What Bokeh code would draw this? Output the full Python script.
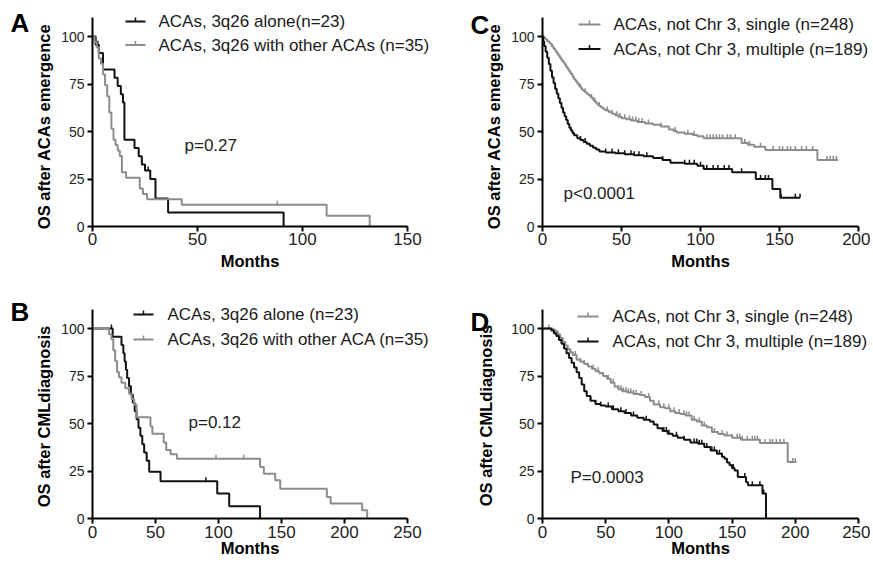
import numpy as np
from bokeh.plotting import figure
from bokeh.models import Range1d, Label, FixedTicker
from bokeh.layouts import column, row
from bokeh.embed import file_html
from bokeh.resources import INLINE

FONT = "Liberation Sans"
BLACK = "#111111"
GRAY = "#8c8c8c"
TXT = "#222222"

# ---------------- data ----------------
y_ticks = [0, 25, 50, 75, 100]
x_ticks_A = [0, 50, 100, 150]
x_ticks_B = [0, 50, 100, 150, 200, 250]
x_ticks_C = [0, 50, 100, 150, 200]
x_ticks_D = [0, 50, 100, 150, 200, 250]

# Panel A: OS after ACAs emergence (3q26)
a_alone_t = [0, 1.5, 3, 5, 10.5, 12, 13.5, 14.5, 15.2, 20, 22, 23.5, 25, 27.5, 30, 36, 91]
a_alone_s = [100, 95.7, 91.3, 82.6, 78.3, 73.9, 69.6, 65.2, 45.7, 41.3, 37.0, 32.6, 29.5, 25.0, 14.7, 7.4, 0]
a_alone_cens = [2.5, 26.5]
a_other_t = [0, 1, 2, 3, 4, 5, 6, 7, 8, 9, 10, 11, 12, 13, 14, 16, 22.5, 24, 26, 42.5, 111.5, 132]
a_other_s = [100, 97.1, 94.3, 88.6, 85.7, 80.0, 74.3, 68.6, 60.0, 51.4, 45.7, 42.9, 40.0, 37.1, 28.6, 25.7, 20.0, 17.1, 14.3, 11.4, 5.7, 0]
a_other_cens = [88]

# Panel B: OS after CML diagnosis (3q26)
b_alone_t = [0, 16, 23, 24.5, 25.5, 26.5, 27.5, 29, 30.5, 32, 33.5, 35, 36.5, 38, 39.5, 41, 43, 45, 54, 99, 108.5, 133]
b_alone_s = [100, 95.7, 91.3, 87.0, 82.6, 78.3, 73.9, 69.6, 65.2, 60.9, 56.5, 52.2, 47.8, 43.5, 39.1, 34.8, 30.4, 24.6, 19.6, 13.1, 6.5, 0]
b_alone_cens = [15, 90]
b_other_t = [0, 13, 15, 16.5, 18, 19.5, 21, 23, 26, 29, 31, 33, 35, 46, 47.5, 56.5, 58.5, 62, 67, 133, 136, 145, 149, 186, 189, 214, 218]
b_other_s = [100, 97.1, 94.3, 88.6, 82.9, 77.1, 74.3, 71.4, 68.6, 65.7, 62.9, 60.0, 53.3, 48.5, 44.6, 40.0, 36.0, 33.8, 31.5, 27.1, 23.6, 20.1, 15.7, 11.3, 7.9, 4.4, 0]
b_other_cens = [13, 98, 120]

# Panel C: OS after ACAs emergence (not chr 3)
c_single_t = [0, 1, 2, 3, 4, 5, 6, 7, 8, 9, 10, 11, 12, 13, 14, 15, 16, 17, 18, 19, 20, 21, 22, 23, 24, 25,
              26, 27, 28, 29, 30, 31, 32, 33, 34, 35, 36, 37, 38, 39, 40, 42, 44, 46, 48, 50, 53, 56, 60, 65,
              70, 75, 80, 83, 85, 90, 95, 98, 102, 126, 130, 134, 141, 174, 187]
c_single_s = [100, 99.2, 98.5, 97.5, 96.8, 96.0, 94.8, 93.5, 92.5, 91.2, 90.0, 88.8, 87.5, 86.5, 85.2, 84.0,
              82.8, 81.4, 80.2, 78.8, 77.5, 76.4, 75.2, 74.1, 73.0, 72.0, 71.3, 70.6, 69.9, 69.2, 68.5, 67.6,
              66.7, 65.8, 64.9, 64.0, 63.4, 62.8, 62.2, 61.6, 61.0, 60.2, 59.4, 58.6, 57.8, 57.0, 56.4, 55.8,
              55.0, 54.2, 53.5, 52.6, 51.0, 50.2, 49.5, 48.8, 48.2, 47.5, 46.5, 44.0, 43.0, 42.0, 40.2, 35.0, 35.0]
c_single_cens = [24, 27, 31, 33, 36, 41, 44, 47, 49, 52, 55, 57, 59, 61, 63, 67, 75, 84, 92, 96, 104, 106,
                 108, 110, 112, 114, 117, 119, 122, 128, 131, 138, 146, 150, 152, 155, 157, 160, 164, 167,
                 171, 180, 182, 184, 186]
c_multi_t = [0, 0.5, 1, 2, 3, 4, 5, 6, 7, 8, 9, 10, 11, 12, 13, 14, 15, 16, 17, 18, 19, 20, 22, 24, 26, 28,
             30, 32, 34, 36, 40, 46, 52, 58, 64, 70, 76, 81, 90, 98, 102, 120, 135, 145.5, 150.5, 163]
c_multi_s = [100, 97.5, 95.0, 92.0, 88.8, 85.5, 82.0, 78.5, 75.5, 72.5, 70.0, 67.5, 65.0, 62.5, 60.0, 58.0,
             56.0, 54.0, 52.0, 50.5, 49.2, 48.0, 46.5, 45.5, 44.5, 43.5, 42.5, 41.5, 40.5, 39.5, 39.0, 38.5,
             38.0, 37.5, 37.0, 36.0, 35.0, 33.5, 33.0, 32.0, 30.2, 28.5, 25.0, 19.8, 15.1, 15.1]
c_multi_cens = [24, 27, 40, 44, 48, 52, 56, 58, 61, 66, 76, 90, 93, 96, 100, 104, 108, 111, 115, 118, 126,
                138, 141, 143, 151, 160, 163]

# Panel D: OS after CML diagnosis (not chr 3)
d_single_t = [0, 8, 10, 12, 14, 16, 18, 20, 22, 24, 27, 30, 33, 36, 39, 42, 45, 48, 51, 54, 57, 60, 63, 67,
              72, 77, 81, 85, 88, 93, 97, 101, 105, 109, 113, 118, 122, 126, 130, 134, 139, 144, 150, 157,
              172, 194, 201]
d_single_s = [100, 99.5, 98.5, 97.0, 95.0, 93.0, 91.0, 89.0, 87.5, 86.0, 83.5, 82.5, 81.3, 80.0, 78.8, 77.5,
              76.5, 75.0, 73.5, 71.5, 69.5, 68.0, 67.0, 66.3, 65.5, 65.0, 64.0, 62.0, 60.0, 58.6, 58.0, 56.5,
              55.5, 55.0, 54.2, 52.0, 51.0, 49.0, 48.0, 45.5, 44.5, 43.7, 42.5, 41.4, 39.7, 29.7, 29.7]
d_single_cens = [5, 22, 26, 30, 33, 36, 40, 44, 48, 52, 56, 60, 62, 64, 66, 68, 70, 72, 74, 78, 84, 88, 92,
                 96, 100, 104, 108, 112, 114, 116, 120, 124, 128, 136, 142, 146, 150, 154, 156, 158, 162,
                 166, 168, 170, 172, 176, 180, 182, 185, 188, 191, 198, 200]
d_multi_t = [0, 7, 9, 11, 13, 15, 17, 19, 21, 23, 25, 27, 29, 31, 33, 35, 38, 42, 46, 50, 55, 60, 65, 70, 75,
             80, 85, 88, 91, 95, 99, 103, 107, 112, 117, 123, 128, 133, 138, 142, 144, 146, 148, 150, 152,
             154.5, 161, 162.5, 174, 176.8]
d_multi_s = [100, 99.0, 97.5, 96.0, 94.0, 92.0, 89.5, 87.0, 84.5, 82.0, 79.5, 77.0, 74.0, 70.5, 67.0, 64.5,
             62.0, 60.3, 59.5, 59.0, 57.5, 56.5, 55.5, 54.2, 53.0, 52.0, 51.0, 49.5, 47.5, 46.0, 44.6, 43.5,
             42.5, 41.4, 40.0, 39.3, 37.6, 35.8, 34.1, 32.5, 31.5, 29.5, 28.0, 26.5, 25.3, 21.8, 19.2, 17.5,
             13.1, 0]
d_multi_cens = [38, 42, 46, 52, 56, 62, 66, 72, 82, 96, 98, 100, 106, 112, 120, 122, 124, 126, 130, 134, 136,
                140, 142, 146, 150, 151, 160, 166, 172, 175]

panels = [
    dict(letter="A", ytitle="OS after ACAs emergence", xmax=150, xticks=x_ticks_A, pval="p=0.27",
         series=[("ACAs, 3q26 alone(n=23)", a_alone_t, a_alone_s, a_alone_cens, BLACK),
                 ("ACAs, 3q26 with other ACAs (n=35)", a_other_t, a_other_s, a_other_cens, GRAY)]),
    dict(letter="C", ytitle="OS after ACAs emergence", xmax=200, xticks=x_ticks_C, pval="p<0.0001",
         series=[("ACAs, not Chr 3, single (n=248)", c_single_t, c_single_s, c_single_cens, GRAY),
                 ("ACAs, not Chr 3, multiple (n=189)", c_multi_t, c_multi_s, c_multi_cens, BLACK)]),
    dict(letter="B", ytitle="OS after CMLdiagnosis", xmax=250, xticks=x_ticks_B, pval="p=0.12",
         series=[("ACAs, 3q26 alone (n=23)", b_alone_t, b_alone_s, b_alone_cens, BLACK),
                 ("ACAs, 3q26 with other ACA (n=35)", b_other_t, b_other_s, b_other_cens, GRAY)]),
    dict(letter="D", ytitle="OS after CMLdiagnosis", xmax=250, xticks=x_ticks_D, pval="P=0.0003",
         series=[("ACAs, not Chr 3, single (n=248)", d_single_t, d_single_s, d_single_cens, GRAY),
                 ("ACAs, not Chr 3, multiple (n=189)", d_multi_t, d_multi_s, d_multi_cens, BLACK)]),
]

# ---------------- layout (page pixels) ----------------
YMAX = 110
FH = 209
spec = {
    # figure box and plotting-area box (left, top, width) in page pixels
    "A": dict(fx=0, fy=0, w=438, h=276, fl=92, ft=17, fw=315),
    "C": dict(fx=438, fy=0, w=432, h=276, fl=542, ft=17, fw=316),
    "B": dict(fx=0, fy=276, w=438, h=286, fl=92, ft=309, fw=315),
    "D": dict(fx=438, fy=276, w=432, h=286, fl=542, ft=309, fw=316),
}
# positions (page px) of the annotation texts; all vertical anchors are text centres
ann = {
    "A": dict(letter=(10, 22.5), rows=(21, 44.5), sample=(125, 145), text_x=158, p=(184, 145),
              ytitle=(43, 126), lab_st=4, tick_st=1),
    "C": dict(letter=(470, 24), rows=(24, 48.5), sample=(578, 600), text_x=613, p=(563, 193.3),
              ytitle=(493, 126), lab_st=4, tick_st=1),
    "B": dict(letter=(10, 311.5), rows=(314, 339), sample=(133, 153), text_x=167, p=(188, 421.7),
              ytitle=(43, 416), lab_st=-2, tick_st=2),
    "D": dict(letter=(470, 321), rows=(316, 341), sample=(577, 598), text_x=612, p=(570, 476.7),
              ytitle=(485, 415), lab_st=-2, tick_st=2),
}


def level(ts, ss, t):
    ts = np.asarray(ts, float)
    ss = np.asarray(ss, float)
    idx = np.searchsorted(ts, t, side="right") - 1
    return ss[np.clip(idx, 0, len(ss) - 1)]


figs = {}
for pn in panels:
    L = pn["letter"]
    sp = spec[L]
    an = ann[L]
    xmax = pn["xmax"]
    kx = xmax / sp["fw"]
    ky = YMAX / FH
    x0r = -(sp["fl"] - sp["fx"]) * kx
    x1r = (sp["fx"] + sp["w"] - sp["fl"]) * kx
    y0r = -(sp["fy"] + sp["h"] - (sp["ft"] + FH)) * ky
    y1r = YMAX + (sp["ft"] - sp["fy"]) * ky

    p = figure(width=sp["w"], height=sp["h"], x_range=Range1d(x0r, x1r), y_range=Range1d(y0r, y1r),
               output_backend="svg", toolbar_location=None, min_border=0)
    p.outline_line_color = None
    p.grid.visible = False
    p.background_fill_color = "white"
    p.border_fill_color = "white"

    for ax in (p.xaxis, p.yaxis):
        ax.fixed_location = 0
        ax.axis_line_color = "black"
        ax.axis_line_width = 2
        ax.major_tick_line_color = "black"
        ax.major_tick_line_width = 2
        ax.major_tick_in = 0
        ax.major_tick_out = 5
        ax.minor_tick_line_color = None
        ax.major_label_text_font = FONT
        ax.major_label_text_color = TXT
        ax.axis_label_text_font = FONT
        ax.axis_label_text_font_style = "bold"
        ax.axis_label_text_color = "black"
    p.xaxis.bounds = (0, xmax)
    p.yaxis.bounds = (0, YMAX)
    p.xaxis.ticker = FixedTicker(ticks=pn["xticks"])
    p.yaxis.ticker = FixedTicker(ticks=y_ticks)
    p.xaxis.major_label_text_font_size = "17px"
    p.yaxis.major_label_text_font_size = "14px"
    p.xaxis.major_label_standoff = an["tick_st"]
    p.yaxis.major_label_standoff = 3
    p.xaxis.axis_label = "Months"
    p.xaxis.axis_label_text_font_size = "16.5px"
    p.xaxis.axis_label_standoff = an["lab_st"]

    def to_data(X, Y, sp=sp, kx=kx, ky=ky):
        return (X - sp["fl"]) * kx, (sp["ft"] + FH - Y) * ky

    ytick_h = 4.0 * ky  # censor tick height (4 px) in data units

    # curves
    for name, t, s, cens, col in pn["series"]:
        p.step(x=t, y=s, mode="after", line_color=col, line_width=2)
        cy = level(t, s, cens)
        p.segment(x0=cens, y0=cy, x1=cens, y1=cy + ytick_h, line_color=col, line_width=1.5)

    # legend (manual)
    sx0, sx1 = an["sample"]
    for (name, t, s, cens, col), ry in zip(pn["series"], an["rows"]):
        lx0, yy = to_data(sx0, ry)
        lx1, _ = to_data(sx1, ry)
        p.segment(x0=[lx0], y0=[yy], x1=[lx1], y1=[yy], line_color=col, line_width=2)
        xm = (lx0 + lx1) / 2
        p.segment(x0=[xm], y0=[yy], x1=[xm], y1=[yy + ytick_h], line_color=col, line_width=1.5)
        tx, ty = to_data(an["text_x"], ry)
        p.add_layout(Label(x=tx, y=ty, text=name, text_font=FONT, text_font_size="17px",
                           text_color="#1a1a1a", text_baseline="middle", text_align="left"))

    # y axis title (vertical)
    yx, yy_ = to_data(*an["ytitle"])
    p.add_layout(Label(x=yx, y=yy_, text=pn["ytitle"], text_font=FONT, text_font_size="16.5px",
                       text_font_style="bold", text_color="black", angle=90, angle_units="deg",
                       text_baseline="middle", text_align="center"))
    # p value
    px_, py_ = to_data(*an["p"])
    p.add_layout(Label(x=px_, y=py_, text=pn["pval"], text_font=FONT, text_font_size="17px",
                       text_color=TXT, text_baseline="middle", text_align="left"))
    # panel letter
    lx, ly = to_data(*an["letter"])
    p.add_layout(Label(x=lx, y=ly, text=L, text_font=FONT, text_font_size="26px", text_font_style="bold",
                       text_color="black", text_baseline="middle", text_align="left"))
    figs[L] = p

layout = column(row(figs["A"], figs["C"]), row(figs["B"], figs["D"]))
open("out.html", "w").write(file_html(layout, INLINE))
